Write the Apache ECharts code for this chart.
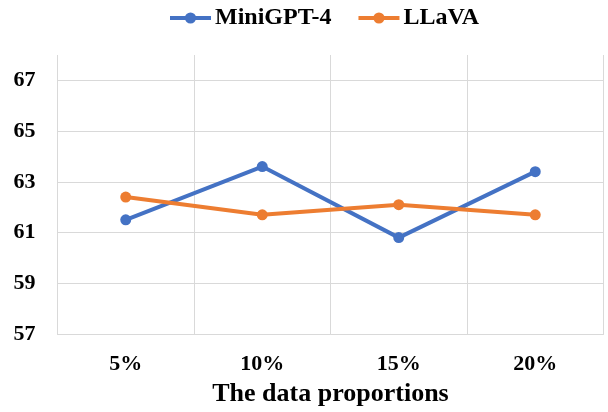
<!DOCTYPE html>
<html><head><meta charset="utf-8">
<script src="https://cdn.jsdelivr.net/npm/echarts@6/dist/echarts.min.js"></script>
<style>html,body{margin:0;padding:0;background:#fff}#c{width:608px;height:412px}</style>
</head><body><div id="c"></div>
<script>
var categories = ['5%', '10%', '15%', '20%'];
var miniGPT4 = [61.5, 63.6, 60.8, 63.4];
var llava = [62.4, 61.7, 62.1, 61.7];
var seriesNames = ['MiniGPT-4', 'LLaVA'];
var xAxisTitle = 'The data proportions';

var font = '"Liberation Serif", "Times New Roman", serif';
var chart = echarts.init(document.getElementById('c'));
chart.setOption({
  animation: false,
  textStyle: {fontFamily: font},
  legend: {
    left: 163, top: 1,
    itemWidth: 41, itemHeight: 14, itemGap: 25,
    lineStyle: {width: 4},
    textStyle: {fontFamily: font, fontWeight: 'bold', fontSize: 24, color: '#000', padding: [0, 0, 0, -1]},
    data: seriesNames
  },
  grid: {left: 57.5, right: 4.5, top: 55, bottom: 77, containLabel: false},
  xAxis: {
    type: 'category', data: categories, boundaryGap: true,
    axisLine: {show: true, lineStyle: {color: '#D9D9D9', width: 1}},
    axisTick: {show: false},
    splitLine: {show: true, lineStyle: {color: '#D9D9D9', width: 1}},
    axisLabel: {fontFamily: font, fontWeight: 'bold', fontSize: 22, color: '#000', margin: 19},
    name: xAxisTitle, nameLocation: 'middle', nameGap: 47,
    nameTextStyle: {fontFamily: font, fontWeight: 'bold', fontSize: 26, color: '#000'}
  },
  yAxis: {
    type: 'value', min: 57, max: 68, interval: 2,
    axisLine: {show: false}, axisTick: {show: false},
    splitLine: {show: true, showMaxLine: false, lineStyle: {color: '#D9D9D9', width: 1}},
    axisLabel: {fontFamily: font, fontWeight: 'bold', fontSize: 22, color: '#000', margin: 22, showMaxLabel: false,
      formatter: function (v) { return v >= 68 ? '' : String(v); }}
  },
  series: [
    {name: seriesNames[0], type: 'line', data: miniGPT4, symbol: 'circle', symbolSize: 11,
     lineStyle: {color: '#4472C4', width: 4}, itemStyle: {color: '#4472C4'}},
    {name: seriesNames[1], type: 'line', data: llava, symbol: 'circle', symbolSize: 11,
     lineStyle: {color: '#ED7D31', width: 4}, itemStyle: {color: '#ED7D31'}}
  ]
});
</script></body></html>
